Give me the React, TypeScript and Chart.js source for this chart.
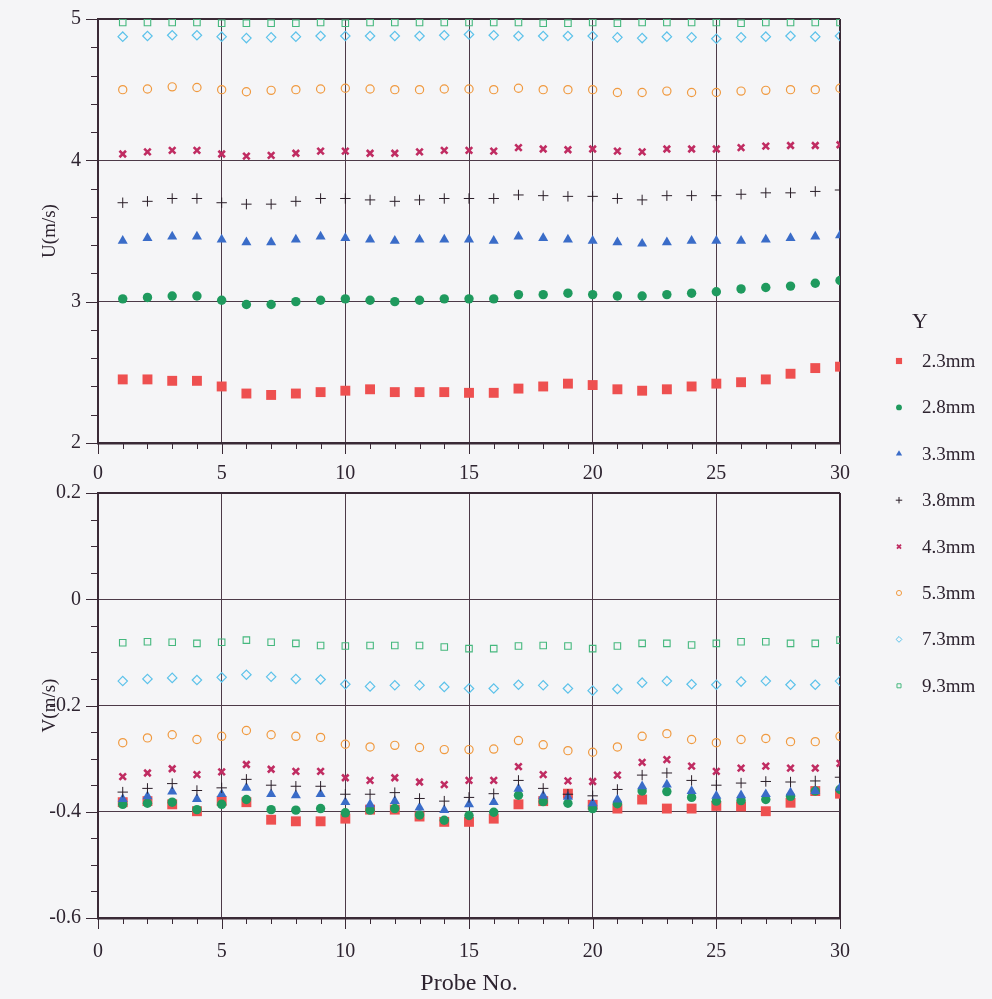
import React, { useEffect, useRef } from 'react';
import { Chart, registerables } from 'chart.js';
import { drawPoint } from 'chart.js/helpers';

Chart.register(...registerables);

// ---------- data ----------
const PROBES = [1, 2, 3, 4, 5, 6, 7, 8, 9, 10, 11, 12, 13, 14, 15, 16, 17, 18, 19, 20, 21, 22, 23, 24, 25, 26, 27, 28, 29, 30];

const SERIES_LABELS = ['2.3mm', '2.8mm', '3.3mm', '3.8mm', '4.3mm', '5.3mm', '7.3mm', '9.3mm'];
const LEGEND_TITLE = 'Y';
const X_TITLE = 'Probe No.';
const U_TITLE = 'U(m/s)';
const V_TITLE = 'V(m/s)';

const U_23 = [2.45, 2.45, 2.44, 2.44, 2.40, 2.35, 2.34, 2.35, 2.36, 2.37, 2.38, 2.36, 2.36, 2.36, 2.355, 2.355, 2.385, 2.40, 2.42, 2.41, 2.38, 2.37, 2.38, 2.40, 2.42, 2.43, 2.45, 2.49, 2.53, 2.54];
const U_28 = [3.02, 3.03, 3.04, 3.04, 3.01, 2.98, 2.98, 3.00, 3.01, 3.02, 3.01, 3.00, 3.01, 3.02, 3.02, 3.02, 3.05, 3.05, 3.06, 3.05, 3.04, 3.04, 3.05, 3.06, 3.07, 3.09, 3.10, 3.11, 3.13, 3.15];
const U_33 = [3.43, 3.45, 3.46, 3.46, 3.44, 3.42, 3.42, 3.44, 3.46, 3.45, 3.44, 3.43, 3.44, 3.44, 3.44, 3.43, 3.46, 3.45, 3.44, 3.43, 3.42, 3.41, 3.42, 3.43, 3.43, 3.43, 3.44, 3.45, 3.46, 3.47];
const U_38 = [3.70, 3.71, 3.73, 3.73, 3.70, 3.69, 3.69, 3.71, 3.73, 3.73, 3.72, 3.71, 3.72, 3.73, 3.73, 3.73, 3.755, 3.75, 3.745, 3.745, 3.73, 3.72, 3.75, 3.75, 3.75, 3.76, 3.77, 3.77, 3.78, 3.79];
const U_43 = [4.045, 4.06, 4.07, 4.07, 4.045, 4.03, 4.035, 4.05, 4.065, 4.065, 4.05, 4.05, 4.06, 4.07, 4.07, 4.065, 4.09, 4.08, 4.075, 4.08, 4.065, 4.06, 4.08, 4.08, 4.08, 4.09, 4.10, 4.105, 4.105, 4.11];
const U_53 = [4.50, 4.505, 4.52, 4.515, 4.50, 4.485, 4.495, 4.50, 4.505, 4.51, 4.505, 4.50, 4.50, 4.505, 4.505, 4.50, 4.51, 4.50, 4.50, 4.50, 4.48, 4.48, 4.49, 4.48, 4.48, 4.49, 4.495, 4.50, 4.50, 4.51];
const U_73 = [4.875, 4.88, 4.885, 4.885, 4.875, 4.865, 4.87, 4.875, 4.88, 4.88, 4.88, 4.88, 4.88, 4.885, 4.89, 4.885, 4.88, 4.88, 4.88, 4.88, 4.87, 4.865, 4.875, 4.87, 4.86, 4.87, 4.875, 4.88, 4.875, 4.88];
const U_93 = [4.975, 4.975, 4.975, 4.975, 4.97, 4.97, 4.97, 4.97, 4.975, 4.97, 4.975, 4.975, 4.975, 4.975, 4.975, 4.975, 4.975, 4.97, 4.97, 4.975, 4.97, 4.975, 4.975, 4.975, 4.975, 4.97, 4.975, 4.975, 4.975, 4.975];

const V_23 = [-0.382, -0.380, -0.386, -0.399, -0.380, -0.382, -0.415, -0.418, -0.418, -0.413, -0.396, -0.396, -0.409, -0.419, -0.419, -0.413, -0.386, -0.380, -0.366, -0.387, -0.394, -0.377, -0.394, -0.394, -0.389, -0.390, -0.399, -0.383, -0.361, -0.366];
const V_28 = [-0.386, -0.384, -0.382, -0.396, -0.386, -0.377, -0.396, -0.397, -0.394, -0.402, -0.397, -0.394, -0.406, -0.416, -0.407, -0.401, -0.369, -0.381, -0.384, -0.394, -0.385, -0.361, -0.362, -0.373, -0.380, -0.379, -0.377, -0.371, -0.361, -0.358];
const V_33 = [-0.376, -0.371, -0.362, -0.376, -0.367, -0.355, -0.367, -0.369, -0.367, -0.382, -0.386, -0.380, -0.392, -0.397, -0.386, -0.382, -0.357, -0.370, -0.372, -0.384, -0.377, -0.352, -0.349, -0.361, -0.370, -0.369, -0.367, -0.364, -0.361, -0.355];
const V_38 = [-0.363, -0.356, -0.347, -0.360, -0.355, -0.339, -0.350, -0.352, -0.352, -0.367, -0.367, -0.364, -0.375, -0.380, -0.373, -0.366, -0.341, -0.356, -0.367, -0.370, -0.358, -0.331, -0.327, -0.341, -0.350, -0.346, -0.343, -0.344, -0.342, -0.335];
const V_43 = [-0.334, -0.327, -0.319, -0.330, -0.325, -0.311, -0.320, -0.324, -0.324, -0.336, -0.341, -0.336, -0.344, -0.349, -0.341, -0.341, -0.315, -0.330, -0.342, -0.343, -0.331, -0.307, -0.302, -0.314, -0.324, -0.318, -0.314, -0.318, -0.318, -0.309];
const V_53 = [-0.270, -0.261, -0.255, -0.264, -0.258, -0.247, -0.255, -0.258, -0.260, -0.273, -0.278, -0.275, -0.279, -0.283, -0.283, -0.282, -0.266, -0.274, -0.285, -0.288, -0.278, -0.258, -0.253, -0.264, -0.270, -0.264, -0.262, -0.268, -0.268, -0.258];
const V_73 = [-0.154, -0.150, -0.148, -0.152, -0.147, -0.142, -0.146, -0.150, -0.151, -0.160, -0.164, -0.162, -0.162, -0.165, -0.168, -0.168, -0.161, -0.162, -0.168, -0.172, -0.169, -0.157, -0.154, -0.160, -0.161, -0.155, -0.154, -0.161, -0.161, -0.154];
const V_93 = [-0.082, -0.080, -0.081, -0.083, -0.081, -0.077, -0.081, -0.083, -0.087, -0.088, -0.087, -0.087, -0.087, -0.090, -0.093, -0.093, -0.088, -0.087, -0.088, -0.093, -0.088, -0.083, -0.083, -0.086, -0.083, -0.080, -0.080, -0.083, -0.083, -0.077];

const U_SERIES = [U_23, U_28, U_33, U_38, U_43, U_53, U_73, U_93];
const V_SERIES = [V_23, V_28, V_33, V_38, V_43, V_53, V_73, V_93];

// ---------- styles ----------
const COLORS = ['#ee5050', '#1f9a5e', '#3a6cc8', '#2a1e28', '#c02c62', '#f09a40', '#5cc2ea', '#45b87e'];
const POINT_STYLES = ['rect', 'circle', 'triangle', 'cross', 'crossRot', 'circle', 'rectRot', 'rect'];
const FILLED = [true, true, true, false, false, false, false, false];
const RADII = [7, 4.7, 5.8, 5.2, 4.6, 4.1, 4.7, 4.6];
const BORDER_W = [0, 0, 0, 1, 2.6, 1.2, 1.2, 1.1];

const BG = '#f5f5f7';
const TEXT = '#2e2430';
const AXIS = '#3a2a36';
const GRID = '#4d3a48';
const FONT = '"Liberation Serif", "Times New Roman", serif';

function makeDatasets(series: number[][]) {
  return series.map((vals, i) => ({
    label: SERIES_LABELS[i],
    data: PROBES.map((p, k) => ({ x: p, y: vals[k] })),
    pointStyle: POINT_STYLES[i],
    pointRadius: RADII[i],
    pointHoverRadius: RADII[i],
    borderWidth: BORDER_W[i],
    pointBorderWidth: BORDER_W[i],
    borderColor: COLORS[i],
    backgroundColor: FILLED[i] ? COLORS[i] : 'rgba(0,0,0,0)',
    showLine: false,
    order: SERIES_LABELS.length - i,
  }));
}

const ticksPlugin = {
  id: 'axisTicks',
  afterDraw(chart: any, _args: any, opts: any) {
    const { ctx } = chart;
    const xs = chart.scales.x;
    const ys = chart.scales.y;
    const isMult = (v: number, m: number) => Math.abs(v / m - Math.round(v / m)) < 1e-6;
    ctx.save();
    ctx.strokeStyle = AXIS;
    ctx.lineWidth = 1;
    const nx = Math.round((xs.max - xs.min) / opts.xMinor);
    for (let k = 0; k <= nx; k++) {
      const v = xs.min + k * opts.xMinor;
      const px = Math.round(xs.getPixelForValue(v)) + 0.5;
      const len = isMult(v, opts.xMajor) ? 11 : 6;
      ctx.beginPath();
      ctx.moveTo(px, ys.bottom);
      ctx.lineTo(px, ys.bottom + len);
      ctx.stroke();
    }
    const ny = Math.round((ys.max - ys.min) / opts.yMinor);
    for (let k = 0; k <= ny; k++) {
      const v = ys.min + k * opts.yMinor;
      const py = Math.round(ys.getPixelForValue(v)) + 0.5;
      const len = isMult(v, opts.yMajor) ? 12 : 7;
      ctx.beginPath();
      ctx.moveTo(xs.left, py);
      ctx.lineTo(xs.left - len, py);
      ctx.stroke();
    }
    ctx.restore();
  },
};

const legendPlugin = {
  id: 'sideLegend',
  afterDraw(chart: any) {
    const { ctx } = chart;
    ctx.save();
    ctx.fillStyle = TEXT;
    ctx.font = `22px ${FONT}`;
    ctx.textAlign = 'center';
    ctx.textBaseline = 'middle';
    ctx.fillText(LEGEND_TITLE, 920, 322);
    ctx.font = `19px ${FONT}`;
    chart.data.datasets.forEach((ds: any, i: number) => {
      const y = 361 + i * 46.4;
      ctx.save();
      ctx.fillStyle = ds.backgroundColor;
      ctx.strokeStyle = ds.borderColor;
      ctx.lineWidth = Math.max(1, ds.pointBorderWidth * 0.7);
      drawPoint(ctx, { pointStyle: ds.pointStyle, radius: ds.pointRadius * 0.62, rotation: 0, borderWidth: ds.pointBorderWidth }, 899, y);
      ctx.restore();
      ctx.fillStyle = TEXT;
      ctx.textAlign = 'left';
      ctx.textBaseline = 'middle';
      ctx.fillText(ds.label, 922, y + 1);
    });
    ctx.restore();
  },
};

function gridColor(ctx: any) {
  const s = ctx.scale;
  const v = ctx.tick ? ctx.tick.value : 0;
  if (Math.abs(v - s.max) < 1e-9 || Math.abs(v - s.min) < 1e-9) return AXIS;
  return GRID;
}
function gridWidth(ctx: any) {
  const s = ctx.scale;
  const v = ctx.tick ? ctx.tick.value : 0;
  if (Math.abs(v - s.max) < 1e-9) return 2;
  return 1;
}

function fmt(v: number) {
  return String(Number(Number(v).toFixed(1)));
}

function makeConfig(opts: any) {
  return {
    type: 'scatter',
    data: { datasets: makeDatasets(opts.series) },
    options: {
      responsive: false,
      maintainAspectRatio: false,
      animation: false,
      events: [],
      layout: { padding: opts.padding },
      plugins: {
        legend: { display: false },
        tooltip: { enabled: false },
        axisTicks: opts.ticks,
      },
      scales: {
        x: {
          type: 'linear',
          min: 0,
          max: 30,
          ticks: { stepSize: 5, autoSkip: false, maxRotation: 0, color: TEXT, font: { family: FONT, size: 20 }, padding: opts.xPad, callback: (v: number) => fmt(v) },
          grid: { color: gridColor, lineWidth: gridWidth, drawTicks: false },
          border: { display: true, color: AXIS, width: 2.5 },
          title: opts.xTitle ? { display: true, text: X_TITLE, color: TEXT, font: { family: FONT, size: 24 }, padding: { top: 0, bottom: 1 } } : { display: false },
          afterFit: (s: any) => { s.height = opts.xHeight; s.paddingLeft = 0; s.paddingRight = 0; },
        },
        y: {
          type: 'linear',
          min: opts.yMin,
          max: opts.yMax,
          ticks: { stepSize: opts.yStep, autoSkip: false, color: TEXT, font: { family: FONT, size: 20 }, padding: 17, callback: (v: number) => fmt(v) },
          grid: { color: gridColor, lineWidth: gridWidth, drawTicks: false },
          border: { display: true, color: AXIS, width: 2 },
          title: { display: true, text: opts.yTitle, color: TEXT, font: { family: FONT, size: 19 }, padding: { top: 39, bottom: 0 } },
          afterFit: (s: any) => { s.width = 98; s.paddingTop = 0; s.paddingBottom = 0; },
        },
      },
    },
    plugins: opts.withLegend ? [ticksPlugin, legendPlugin] : [ticksPlugin],
  };
}

export default function App() {
  const topRef = useRef<HTMLCanvasElement>(null);
  const botRef = useRef<HTMLCanvasElement>(null);

  useEffect(() => {
    const top = new Chart(topRef.current as HTMLCanvasElement, makeConfig({
      series: U_SERIES,
      padding: { top: 19, right: 152, bottom: 519, left: 0 },
      xHeight: 37,
      xPad: 19,
      xTitle: false,
      yMin: 2, yMax: 5, yStep: 1,
      yTitle: U_TITLE,
      ticks: { xMajor: 5, xMinor: 1, yMajor: 1, yMinor: 0.2 },
      withLegend: true,
    }) as any);
    const bot = new Chart(botRef.current as HTMLCanvasElement, makeConfig({
      series: V_SERIES,
      padding: { top: 13, right: 152, bottom: 0, left: 0 },
      xHeight: 81,
      xPad: 22,
      xTitle: true,
      yMin: -0.6, yMax: 0.2, yStep: 0.2,
      yTitle: V_TITLE,
      ticks: { xMajor: 5, xMinor: 1, yMajor: 0.2, yMinor: 0.05 },
      withLegend: false,
    }) as any);
    return () => { top.destroy(); bot.destroy(); };
  }, []);

  return (
    <div style={{ position: 'absolute', left: 0, top: 0, width: 992, height: 999, background: BG, overflow: 'hidden' }}>
      <canvas ref={topRef} width={992} height={999} style={{ position: 'absolute', left: 0, top: 0, width: 992, height: 999, display: 'block' }} />
      <canvas ref={botRef} width={992} height={519} style={{ position: 'absolute', left: 0, top: 480, width: 992, height: 519, display: 'block' }} />
    </div>
  );
}
